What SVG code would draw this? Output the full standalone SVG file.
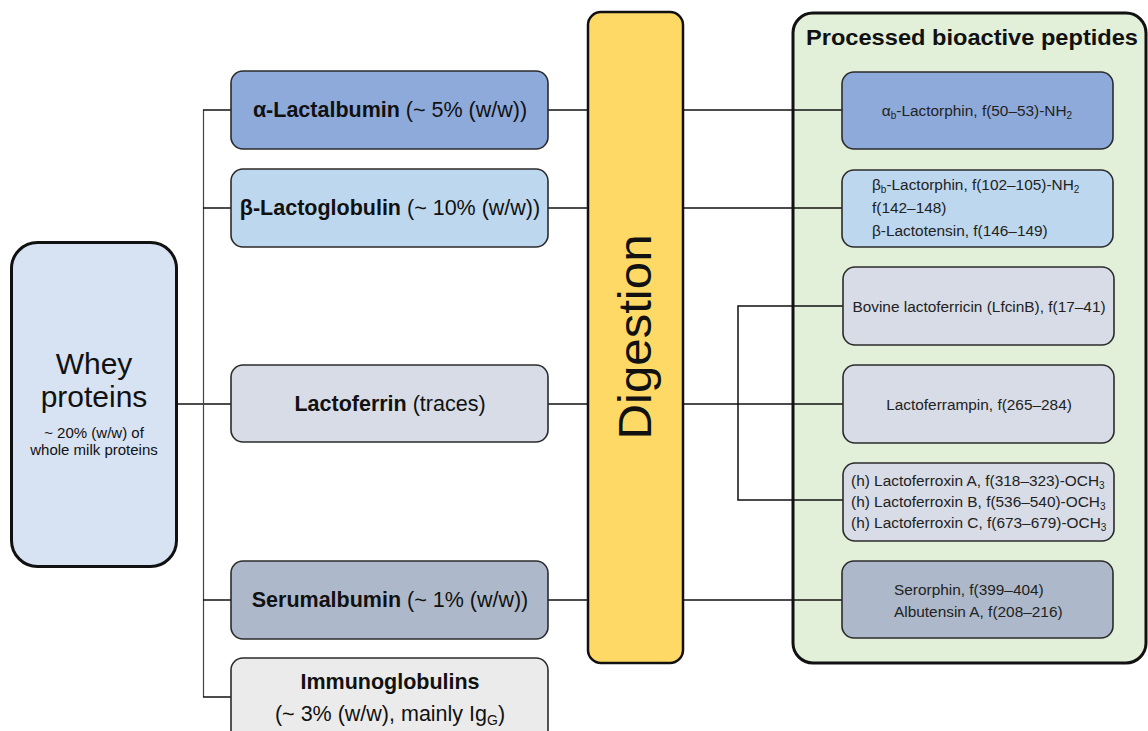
<svg xmlns="http://www.w3.org/2000/svg" width="1148" height="731" viewBox="0 0 1148 731">
<style>
text{font-family:"Liberation Sans",Arial,sans-serif;fill:#111}
.box{stroke:#2b2b2b;stroke-width:1.6}
.main{font-size:21.5px}
.b{font-weight:bold}
.pep{font-size:15.4px;fill:#222}
.sub{font-size:10px}
.conn line,.conn polyline{stroke:#111;stroke-width:1.5;fill:none}
</style>
<rect width="1148" height="731" fill="#ffffff"/>

<g id="panel">
<rect x="793" y="13" width="353" height="650" rx="20" fill="#e2efd9" stroke="#111" stroke-width="3"/>
<text x="972" y="45" text-anchor="middle" class="b" font-size="22" textLength="332" lengthAdjust="spacingAndGlyphs">Processed bioactive peptides</text>
</g>

<g class="conn" id="connectors">
<line x1="176" y1="404" x2="231" y2="404"/>
<line x1="203.5" y1="110" x2="203.5" y2="697" style="stroke:#444;stroke-width:1.2"/>
<line x1="203" y1="110" x2="231" y2="110"/>
<line x1="203" y1="208" x2="231" y2="208"/>
<line x1="203" y1="600" x2="231" y2="600"/>
<line x1="203" y1="697" x2="231" y2="697"/>
<line x1="548" y1="110" x2="588" y2="110"/>
<line x1="548" y1="208" x2="588" y2="208"/>
<line x1="548" y1="404" x2="588" y2="404"/>
<line x1="548" y1="600" x2="588" y2="600"/>
<line x1="684" y1="110" x2="842" y2="110"/>
<line x1="684" y1="208" x2="842" y2="208"/>
<line x1="684" y1="404" x2="843" y2="404"/>
<line x1="684" y1="600" x2="842" y2="600"/>
<polyline points="843,306 738,306 738,500 843,500"/>
</g>

<g id="whey">
<rect x="11.5" y="242.5" width="165" height="324" rx="26" fill="#d7e2f3" stroke="#111" stroke-width="3"/>
<text x="94" y="374" text-anchor="middle" font-size="30">Whey</text>
<text x="94" y="407" text-anchor="middle" font-size="30">proteins</text>
<text x="94" y="438" text-anchor="middle" font-size="15">~ 20% (w/w) of</text>
<text x="94" y="455" text-anchor="middle" font-size="15">whole milk proteins</text>
</g>

<g id="alpha-lactalbumin">
<rect class="box" x="231" y="71" width="317" height="78" rx="12" fill="#8eaadb"/>
<text class="main" x="390" y="117" text-anchor="middle"><tspan class="b">α-Lactalbumin</tspan> (~ 5% (w/w))</text>
</g>
<g id="beta-lactoglobulin">
<rect class="box" x="231" y="169" width="317" height="78" rx="12" fill="#bdd7ee"/>
<text class="main" x="390" y="215" text-anchor="middle"><tspan class="b">β-Lactoglobulin</tspan> (~ 10% (w/w))</text>
</g>
<g id="lactoferrin">
<rect class="box" x="231" y="365" width="317" height="77" rx="12" fill="#d7dce6"/>
<text class="main" x="390" y="411" text-anchor="middle"><tspan class="b">Lactoferrin</tspan> (traces)</text>
</g>
<g id="serumalbumin">
<rect class="box" x="231" y="561" width="317" height="78" rx="12" fill="#adb9ca"/>
<text class="main" x="390" y="607" text-anchor="middle"><tspan class="b">Serumalbumin</tspan> (~ 1% (w/w))</text>
</g>
<g id="immunoglobulins">
<rect class="box" x="231" y="658" width="317" height="85" rx="12" fill="#ebebeb"/>
<text class="main b" x="390" y="689" text-anchor="middle">Immunoglobulins</text>
<text class="main" x="390" y="721" text-anchor="middle">(~ 3% (w/w), mainly Ig<tspan font-size="14" dy="4">G</tspan><tspan dy="-4">)</tspan></text>
</g>

<g id="digestion">
<rect x="588" y="12" width="95" height="651" rx="13" fill="#ffd966" stroke="#111" stroke-width="2.5"/>
<text transform="translate(651,337) rotate(-90)" text-anchor="middle" font-size="46" textLength="205" lengthAdjust="spacingAndGlyphs">Digestion</text>
</g>

<g id="pep-alpha">
<rect class="box" x="842" y="72" width="271" height="77" rx="12" fill="#8eaadb"/>
<text class="pep" x="977" y="116" text-anchor="middle">α<tspan class="sub" dy="3">b</tspan><tspan dy="-3">-Lactorphin, f(50–53)-NH</tspan><tspan class="sub" dy="3">2</tspan></text>
</g>
<g id="pep-beta">
<rect class="box" x="842" y="170" width="271" height="77" rx="12" fill="#bdd7ee"/>
<text class="pep" x="872" y="190">β<tspan class="sub" dy="3">b</tspan><tspan dy="-3">-Lactorphin, f(102–105)-NH</tspan><tspan class="sub" dy="3">2</tspan></text>
<text class="pep" x="872" y="213">f(142–148)</text>
<text class="pep" x="872" y="236">β-Lactotensin, f(146–149)</text>
</g>
<g id="pep-lactoferricin">
<rect class="box" x="843" y="267" width="271" height="78" rx="12" fill="#d7dce6"/>
<text class="pep" x="979" y="312" text-anchor="middle">Bovine lactoferricin (LfcinB), f(17–41)</text>
</g>
<g id="pep-lactoferrampin">
<rect class="box" x="843" y="365" width="271" height="78" rx="12" fill="#d7dce6"/>
<text class="pep" x="979" y="410" text-anchor="middle">Lactoferrampin, f(265–284)</text>
</g>
<g id="pep-lactoferroxin">
<rect class="box" x="843" y="463" width="271" height="78" rx="12" fill="#d7dce6"/>
<text class="pep" x="851" y="486">(h) Lactoferroxin A, f(318–323)-OCH<tspan class="sub" dy="3">3</tspan></text>
<text class="pep" x="851" y="507">(h) Lactoferroxin B, f(536–540)-OCH<tspan class="sub" dy="3">3</tspan></text>
<text class="pep" x="851" y="528">(h) Lactoferroxin C, f(673–679)-OCH<tspan class="sub" dy="3">3</tspan></text>
</g>
<g id="pep-serum">
<rect class="box" x="842" y="561" width="271" height="77" rx="12" fill="#adb9ca"/>
<text class="pep" x="894" y="595">Serorphin, f(399–404)</text>
<text class="pep" x="894" y="617">Albutensin A, f(208–216)</text>
</g>
</svg>
